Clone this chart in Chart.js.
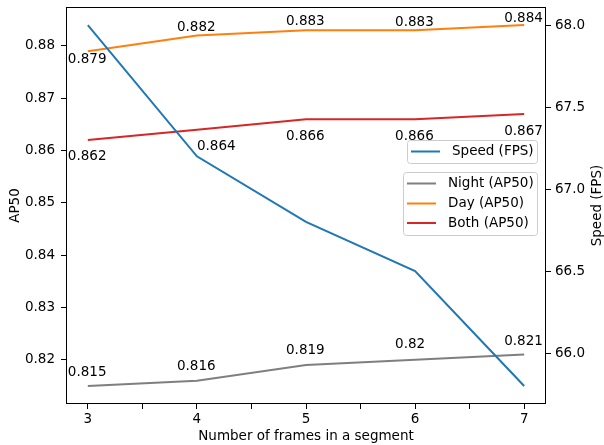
<!DOCTYPE html>
<html>
<head>
<meta charset="utf-8">
<script src="https://cdn.jsdelivr.net/npm/chart.js@4/dist/chart.umd.min.js"></script>
<style>
  html, body { margin: 0; padding: 0; background: #fff; }
  #wrap { width: 604px; height: 445px; }
</style>
</head>
<body>
<div id="wrap"><canvas id="c" width="604" height="445"></canvas></div>
<script>
// ---- data ----
const frames = [3, 4, 5, 6, 7];
const speedFPS = [68.0, 67.2, 66.8, 66.5, 65.8];
const nightAP50 = [0.815, 0.816, 0.819, 0.82, 0.821];
const dayAP50 = [0.879, 0.882, 0.883, 0.883, 0.884];
const bothAP50 = [0.862, 0.864, 0.866, 0.866, 0.867];
const xTicks = [3, 3.5, 4, 4.5, 5, 5.5, 6, 6.5, 7];
const apTicks = [0.82, 0.83, 0.84, 0.85, 0.86, 0.87, 0.88];
const fpsTicks = [66.0, 66.5, 67.0, 67.5, 68.0];

const FONT = 'DejaVu Sans';
const FS = 13.5;
Chart.defaults.font.family = FONT;
Chart.defaults.font.size = FS;
Chart.defaults.color = '#000';

const toPts = arr => arr.map((v, i) => ({ x: frames[i], y: v }));

// label offsets (style): left-aligned text, dx/dy in px from the point
const labelStyle = {
  'Night (AP50)': { dx: [-20, -20, -20, -20, -20], dy: [-13.5, -14, -15, -15, -13] },
  'Day (AP50)':   { dx: [-20, -20, -20, -20, -20], dy: [8, -8, -9, -8, -7] },
  'Both (AP50)':  { dx: [-20, 0, -20, -20, -20], dy: [16, 17, 17, 17, 17.5] }
};

const valueLabels = {
  id: 'valueLabels',
  afterDatasetsDraw(chart) {
    const ctx = chart.ctx;
    ctx.save();
    ctx.font = FS + 'px ' + FONT;
    ctx.fillStyle = '#000';
    ctx.textAlign = 'left';
    ctx.textBaseline = 'middle';
    chart.data.datasets.forEach((ds, di) => {
      const st = labelStyle[ds.label];
      if (!st) return;
      const meta = chart.getDatasetMeta(di);
      meta.data.forEach((pt, i) => {
        ctx.fillText(String(ds.data[i].y), pt.x + st.dx[i], pt.y + st.dy[i]);
      });
    });
    ctx.restore();
  }
};

const frame = {
  id: 'frame',
  afterDraw(chart) {
    const { left, right, top, bottom } = chart.chartArea;
    const ctx = chart.ctx;
    ctx.save();
    ctx.strokeStyle = '#000';
    ctx.lineWidth = 1;
    ctx.strokeRect(left + 0.5, top + 0.5, right - left - 1, bottom - top - 1);
    // right axis title (reads bottom-to-top)
    ctx.font = FS + 'px ' + FONT;
    ctx.fillStyle = '#000';
    ctx.textAlign = 'center';
    ctx.textBaseline = 'middle';
    ctx.translate(597, (top + bottom) / 2);
    ctx.rotate(-Math.PI / 2);
    ctx.fillText('Speed (FPS)', 0, 0);
    ctx.restore();
  }
};

function roundRect(ctx, x, y, w, h, r) {
  ctx.beginPath();
  ctx.moveTo(x + r, y);
  ctx.lineTo(x + w - r, y);
  ctx.quadraticCurveTo(x + w, y, x + w, y + r);
  ctx.lineTo(x + w, y + h - r);
  ctx.quadraticCurveTo(x + w, y + h, x + w - r, y + h);
  ctx.lineTo(x + r, y + h);
  ctx.quadraticCurveTo(x, y + h, x, y + h - r);
  ctx.lineTo(x, y + r);
  ctx.quadraticCurveTo(x, y, x + r, y);
  ctx.closePath();
}

const legends = {
  id: 'legends',
  afterDraw(chart) {
    const ctx = chart.ctx;
    const ds = chart.data.datasets;
    const groups = [
      { box: [407.5, 140.5, 130, 23], lineX: [411, 440], textX: 452, rows: [151.5], items: [ds[0]] },
      { box: [403.5, 172.5, 134, 63], lineX: [407, 436], textX: 448, rows: [183.5, 203.5, 223], items: [ds[1], ds[2], ds[3]] }
    ];
    ctx.save();
    groups.forEach(g => {
      roundRect(ctx, g.box[0], g.box[1], g.box[2], g.box[3], 3);
      ctx.fillStyle = 'rgba(255,255,255,0.8)';
      ctx.fill();
      ctx.strokeStyle = '#cccccc';
      ctx.lineWidth = 1;
      ctx.stroke();
      g.items.forEach((d, i) => {
        const y = g.rows[i];
        ctx.beginPath();
        ctx.moveTo(g.lineX[0], y);
        ctx.lineTo(g.lineX[1], y);
        ctx.strokeStyle = d.borderColor;
        ctx.lineWidth = 2;
        ctx.stroke();
        ctx.font = FS + 'px ' + FONT;
        ctx.fillStyle = '#000';
        ctx.textAlign = 'left';
        ctx.textBaseline = 'middle';
        ctx.fillText(d.label, g.textX, y);
      });
    });
    ctx.restore();
  }
};

const setTicks = arr => axis => { axis.ticks = arr.map(v => ({ value: v })); };
const noPad = s => { s.paddingTop = 0; s.paddingBottom = 0; s.paddingLeft = 0; s.paddingRight = 0; };

new Chart(document.getElementById('c'), {
  type: 'line',
  data: {
    datasets: [
      { label: 'Speed (FPS)', data: toPts(speedFPS), yAxisID: 'y1', borderColor: '#1f77b4', order: 0 },
      { label: 'Night (AP50)', data: toPts(nightAP50), yAxisID: 'y', borderColor: '#7f7f7f', order: 3 },
      { label: 'Day (AP50)', data: toPts(dayAP50), yAxisID: 'y', borderColor: '#ff7f0e', order: 2 },
      { label: 'Both (AP50)', data: toPts(bothAP50), yAxisID: 'y', borderColor: '#d62728', order: 1 }
    ]
  },
  options: {
    responsive: false,
    animation: false,
    events: [],
    layout: { padding: { top: 7, left: 0, right: 0, bottom: 0 } },
    elements: {
      line: { borderWidth: 2, tension: 0, fill: false },
      point: { radius: 0, hoverRadius: 0 }
    },
    plugins: { legend: { display: false }, tooltip: { enabled: false } },
    scales: {
      x: {
        type: 'linear',
        position: 'bottom',
        min: 2.8, max: 7.2,
        afterBuildTicks: setTicks(xTicks),
        afterFit: s => { s.height = 41; noPad(s); },
        border: { display: false },
        grid: { drawOnChartArea: false, tickLength: 5, tickColor: '#000', tickWidth: 1 },
        ticks: {
          padding: 2,
          maxRotation: 0,
          autoSkip: false,
          callback: v => Number.isInteger(v) ? String(v) : ''
        },
        title: { display: true, text: 'Number of frames in a segment', padding: { top: 0, bottom: 0 } }
      },
      y: {
        type: 'linear',
        position: 'left',
        min: 0.81155, max: 0.88745,
        afterBuildTicks: setTicks(apTicks),
        afterFit: s => { s.width = 66; noPad(s); },
        border: { display: false },
        grid: { drawOnChartArea: false, tickLength: 5, tickColor: '#000', tickWidth: 1 },
        ticks: { padding: 6, autoSkip: false, callback: v => v.toFixed(2) },
        title: { display: true, text: 'AP50', padding: { top: 7, bottom: 0 } }
      },
      y1: {
        type: 'linear',
        position: 'right',
        min: 65.69, max: 68.11,
        afterBuildTicks: setTicks(fpsTicks),
        afterFit: s => { s.width = 58; noPad(s); },
        border: { display: false },
        grid: { drawOnChartArea: false, tickLength: 5, tickColor: '#000', tickWidth: 1 },
        ticks: { padding: 4, autoSkip: false, callback: v => v.toFixed(1) }
      }
    }
  },
  plugins: [valueLabels, legends, frame]
});
</script>
</body>
</html>
